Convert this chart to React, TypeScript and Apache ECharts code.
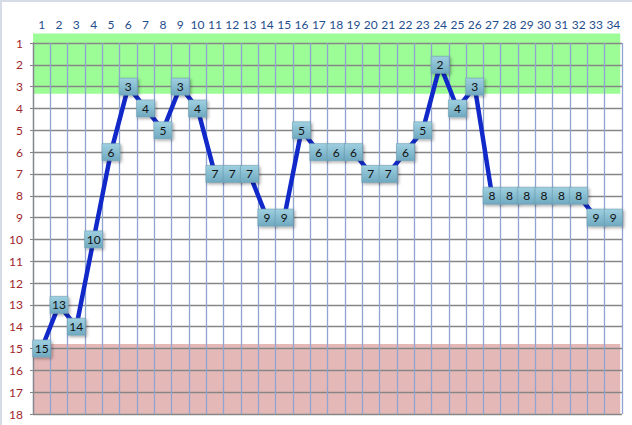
import React, { useEffect, useRef } from "react";
import * as echarts from "echarts";

const categories: string[] = Array.from({ length: 34 }, (_, i) => String(i + 1));
const rankValues: number[] = [
  15, 13, 14, 10, 6, 3, 4, 5, 3, 4, 7, 7, 7, 9, 9, 5, 6, 6, 6, 7, 7, 6, 5, 2, 4, 3, 8, 8, 8, 8, 8, 8, 9, 9,
];
const yTicks: number[] = Array.from({ length: 18 }, (_, i) => i + 1);
// bands: [yFrom, yTo]
const greenBand: number[] = [0.57, 3.33];
const redBand: number[] = [14.79, 18];
const bandXExtent: number[] = [0, 33.9];

export default function App() {
  const ref = useRef<HTMLDivElement>(null);
  useEffect(() => {
    if (!ref.current) return;
    const chart = echarts.init(ref.current, null, { renderer: "svg" });
    const bands = [
      [bandXExtent[0], greenBand[0], bandXExtent[1], greenBand[1], 0],
      [bandXExtent[0], redBand[0], bandXExtent[1], redBand[1], 1],
    ];
    const bandColors = ["#9CFC96", "#E5B8B8"];
    chart.setOption({
      animation: false,
      textStyle: { fontFamily: "Lato, 'Open Sans', sans-serif" },
      grid: { left: 33, top: 43, right: 10, bottom: 11, containLabel: false },
      xAxis: [
        {
          type: "category",
          data: categories,
          position: "top",
          boundaryGap: true,
          axisLine: { show: false },
          axisTick: { show: false },
          axisLabel: { color: "#1F4E8C", fontSize: 12, margin: 13, interval: 0 },
          splitLine: { show: true, interval: 0, lineStyle: { color: "#8FA4D0", width: 1.3 } },
        },
        {
          type: "value",
          min: 0,
          max: 34,
          show: false,
        },
      ],
      yAxis: {
        type: "value",
        inverse: true,
        min: 1,
        max: 18,
        interval: 1,
        axisLine: { show: true, lineStyle: { color: "#868686", width: 1.3 } },
        axisTick: { show: true, length: 3, lineStyle: { color: "#868686" } },
        axisLabel: {
          color: "#A0282C",
          fontSize: 12,
          margin: 10,
          formatter: (v: number) => (yTicks.includes(v) ? String(v) : ""),
        },
        splitLine: { show: true, lineStyle: { color: "#868686", width: 1.3 } },
      },
      series: [
        {
          type: "custom",
          xAxisIndex: 1,
          z: -1,
          silent: true,
          clip: false,
          data: bands,
          renderItem: (params: any, api: any) => {
            const p0 = api.coord([api.value(0), api.value(1)]);
            const p1 = api.coord([api.value(2), api.value(3)]);
            return {
              type: "rect",
              shape: {
                x: Math.min(p0[0], p1[0]),
                y: Math.min(p0[1], p1[1]),
                width: Math.abs(p1[0] - p0[0]),
                height: Math.abs(p1[1] - p0[1]),
              },
              style: { fill: bandColors[api.value(4)] },
            };
          },
        },
        {
          type: "line",
          data: rankValues,
          lineStyle: { color: "#1229C9", width: 4.5 },
          symbol: "rect",
          symbolSize: [18, 17],
          showAllSymbol: true,
          itemStyle: {
            color: {
              type: "linear",
              x: 0,
              y: 0,
              x2: 0,
              y2: 1,
              colorStops: [
                { offset: 0, color: "#9FD0E0" },
                { offset: 1, color: "#6FA9C0" },
              ],
            },
            borderColor: "#6C9FB4",
            borderWidth: 0.6,
            shadowColor: "rgba(0,0,0,0.35)",
            shadowBlur: 3,
            shadowOffsetX: 1.5,
            shadowOffsetY: 1.5,
          },
          label: {
            show: true,
            position: "inside",
            color: "#111",
            fontSize: 12,
          },
        },
      ],
    });
    return () => chart.dispose();
  }, []);
  return (
    <div style={{ position: "fixed", left: 0, top: 0, width: 632, height: 425, background: "#fff" }}>
      <div
        style={{
          position: "absolute",
          left: 0,
          top: 0,
          width: 660,
          height: 460,
          borderTop: "2px solid #D6DCE6",
          borderLeft: "2px solid #D6DCE6",
          boxSizing: "border-box",
        }}
      />
      <div ref={ref} style={{ position: "absolute", left: 0, top: 0, width: 632, height: 425 }} />
    </div>
  );
}
